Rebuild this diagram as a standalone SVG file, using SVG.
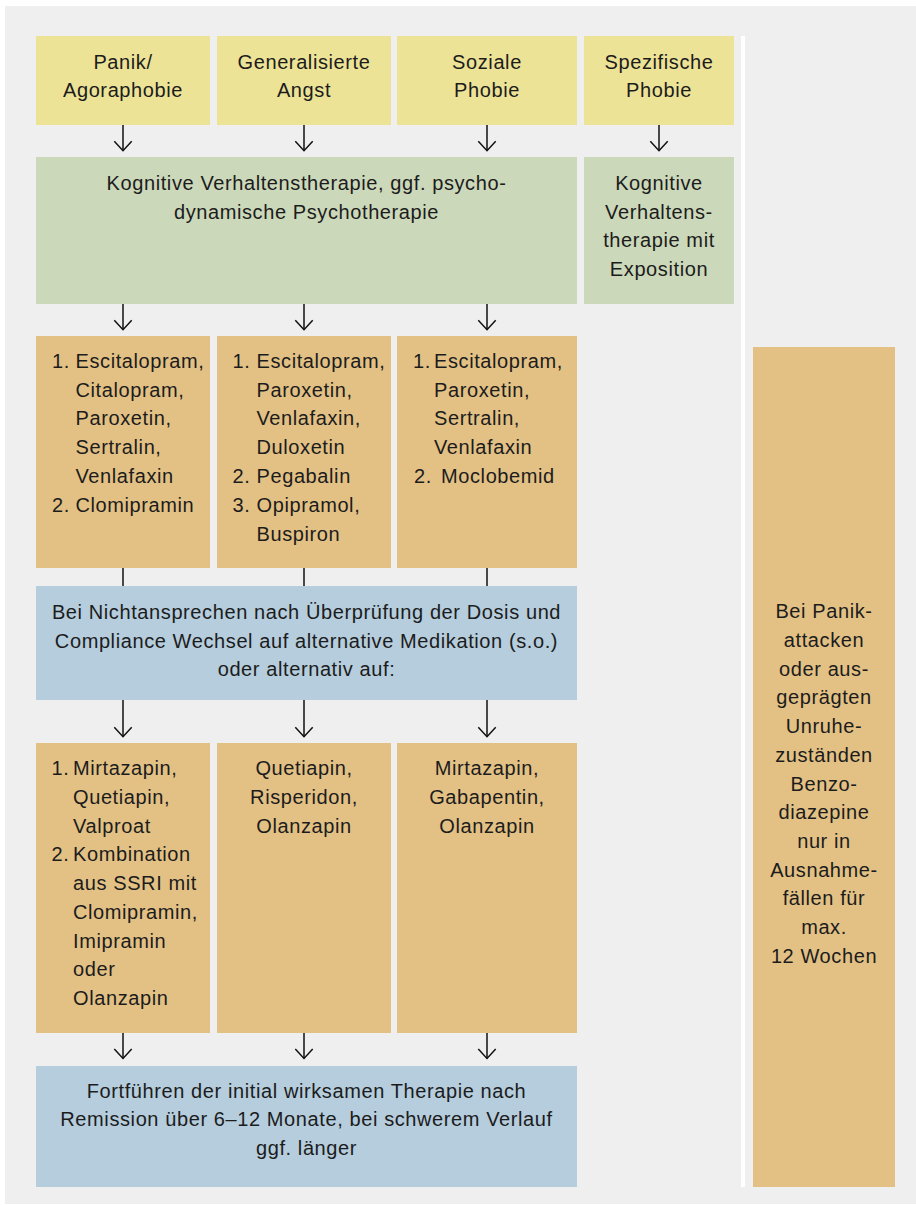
<svg xmlns="http://www.w3.org/2000/svg" width="916" height="1205" viewBox="0 0 916 1205">
<defs>
<style>
.t{font-family:"Liberation Sans",Arial,sans-serif;font-size:20px;letter-spacing:0.6px;fill:#1c1c1c}
.c{text-anchor:middle}
.yel{fill:#ede397}
.grn{fill:#ccd8ba}
.org{fill:#e3c185}
.blu{fill:#b5cddc}
.ln{stroke:#111;stroke-width:1.5;fill:none}
</style>
<marker id="ah" markerUnits="userSpaceOnUse" viewBox="-11 -10 12 20" refX="0" refY="0" markerWidth="12" markerHeight="20" orient="auto" overflow="visible">
<path d="M-9.5,-8.7 L0,0 L-9.5,8.7" fill="none" stroke="#111" stroke-width="1.5"/>
</marker>
</defs>
<rect x="0" y="0" width="916" height="1205" fill="#ffffff"/>
<rect x="5" y="6" width="911" height="1198" fill="#efefef"/>
<rect x="741" y="36" width="4" height="1151" fill="#ffffff"/>

<g id="h1"><rect class="yel" x="36" y="36" width="174" height="89"/>
<text class="t c" x="123" y="69">Panik/</text><text class="t c" x="123" y="97">Agoraphobie</text></g>
<g id="h2"><rect class="yel" x="217" y="36" width="174" height="89"/>
<text class="t c" x="304" y="69">Generalisierte</text><text class="t c" x="304" y="97">Angst</text></g>
<g id="h3"><rect class="yel" x="397" y="36" width="180" height="89"/>
<text class="t c" x="487" y="69">Soziale</text><text class="t c" x="487" y="97">Phobie</text></g>
<g id="h4"><rect class="yel" x="584" y="36" width="150" height="89"/>
<text class="t c" x="659" y="69">Spezifische</text><text class="t c" x="659" y="97">Phobie</text></g>

<g id="g1"><rect class="grn" x="36" y="157" width="541" height="147"/>
<text class="t c" x="306.5" y="190">Kognitive Verhaltenstherapie, ggf. psycho-</text>
<text class="t c" x="306.5" y="218.5">dynamische Psychotherapie</text></g>
<g id="g2"><rect class="grn" x="584" y="157" width="150" height="147"/>
<text class="t c" x="659" y="190">Kognitive</text>
<text class="t c" x="659" y="218.5">Verhaltens-</text>
<text class="t c" x="659" y="247">therapie mit</text>
<text class="t c" x="659" y="275.5">Exposition</text></g>

<g id="m1"><rect class="org" x="36" y="336" width="174" height="232"/>
<text class="t" x="52" y="367.7">1.</text><text class="t" x="75.5" y="367.7">Escitalopram,</text>
<text class="t" x="75.5" y="396.5">Citalopram,</text>
<text class="t" x="75.5" y="425.3">Paroxetin,</text>
<text class="t" x="75.5" y="454.1">Sertralin,</text>
<text class="t" x="75.5" y="482.9">Venlafaxin</text>
<text class="t" x="52" y="511.7">2.</text><text class="t" x="75.5" y="511.7">Clomipramin</text></g>
<g id="m2"><rect class="org" x="217" y="336" width="174" height="232"/>
<text class="t" x="232.5" y="367.7">1.</text><text class="t" x="256.5" y="367.7">Escitalopram,</text>
<text class="t" x="256.5" y="396.5">Paroxetin,</text>
<text class="t" x="256.5" y="425.3">Venlafaxin,</text>
<text class="t" x="256.5" y="454.1">Duloxetin</text>
<text class="t" x="232.5" y="482.9">2.</text><text class="t" x="256.5" y="482.9">Pegabalin</text>
<text class="t" x="232.5" y="511.7">3.</text><text class="t" x="256.5" y="511.7">Opipramol,</text>
<text class="t" x="256.5" y="540.5">Buspiron</text></g>
<g id="m3"><rect class="org" x="397" y="336" width="180" height="232"/>
<text class="t" x="413" y="367.7">1.</text><text class="t" x="434" y="367.7">Escitalopram,</text>
<text class="t" x="434" y="396.5">Paroxetin,</text>
<text class="t" x="434" y="425.3">Sertralin,</text>
<text class="t" x="434" y="454.1">Venlafaxin</text>
<text class="t" x="414" y="482.9">2.</text><text class="t" x="441" y="482.9">Moclobemid</text></g>

<g id="b1"><rect class="blu" x="36" y="586" width="541" height="114"/>
<text class="t c" x="306.5" y="619.3">Bei Nichtansprechen nach Überprüfung der Dosis und</text>
<text class="t c" x="306.5" y="647.7">Compliance Wechsel auf alternative Medikation (s.o.)</text>
<text class="t c" x="306.5" y="676">oder alternativ auf:</text></g>

<g id="a1"><rect class="org" x="36" y="743" width="174" height="290"/>
<text class="t" x="51.5" y="775">1.</text><text class="t" x="73" y="775">Mirtazapin,</text>
<text class="t" x="73" y="803.75">Quetiapin,</text>
<text class="t" x="73" y="832.5">Valproat</text>
<text class="t" x="51.5" y="861.25">2.</text><text class="t" x="73" y="861.25">Kombination</text>
<text class="t" x="73" y="890">aus SSRI mit</text>
<text class="t" x="73" y="918.75">Clomipramin,</text>
<text class="t" x="73" y="947.5">Imipramin</text>
<text class="t" x="73" y="976.25">oder</text>
<text class="t" x="73" y="1005">Olanzapin</text></g>
<g id="a2"><rect class="org" x="217" y="743" width="174" height="290"/>
<text class="t c" x="304" y="775">Quetiapin,</text>
<text class="t c" x="304" y="803.75">Risperidon,</text>
<text class="t c" x="304" y="832.5">Olanzapin</text></g>
<g id="a3"><rect class="org" x="397" y="743" width="180" height="290"/>
<text class="t c" x="487" y="775">Mirtazapin,</text>
<text class="t c" x="487" y="803.75">Gabapentin,</text>
<text class="t c" x="487" y="832.5">Olanzapin</text></g>

<g id="b2"><rect class="blu" x="36" y="1066" width="541" height="121"/>
<text class="t c" x="306.5" y="1097.7">Fortführen der initial wirksamen Therapie nach</text>
<text class="t c" x="306.5" y="1126.2">Remission über 6–12 Monate, bei schwerem Verlauf</text>
<text class="t c" x="306.5" y="1154.7">ggf. länger</text></g>

<g id="r1"><rect class="org" x="753" y="347" width="142" height="840"/>
<text class="t c" x="824" y="618.3">Bei Panik-</text>
<text class="t c" x="824" y="647">attacken</text>
<text class="t c" x="824" y="675.7">oder aus-</text>
<text class="t c" x="824" y="704.4">geprägten</text>
<text class="t c" x="824" y="733.1">Unruhe-</text>
<text class="t c" x="824" y="761.8">zuständen</text>
<text class="t c" x="824" y="790.5">Benzo-</text>
<text class="t c" x="824" y="819.2">diazepine</text>
<text class="t c" x="824" y="847.9">nur in</text>
<text class="t c" x="824" y="876.6">Ausnahme-</text>
<text class="t c" x="824" y="905.3">fällen für</text>
<text class="t c" x="824" y="934">max.</text>
<text class="t c" x="824" y="962.7">12 Wochen</text></g>

<g id="connectors">
<path class="ln" marker-end="url(#ah)" d="M123,125 V150.7"/>
<path class="ln" marker-end="url(#ah)" d="M304,125 V150.7"/>
<path class="ln" marker-end="url(#ah)" d="M487,125 V150.7"/>
<path class="ln" marker-end="url(#ah)" d="M659,125 V150.7"/>
<path class="ln" marker-end="url(#ah)" d="M123,304 V329.7"/>
<path class="ln" marker-end="url(#ah)" d="M304,304 V329.7"/>
<path class="ln" marker-end="url(#ah)" d="M487,304 V329.7"/>
<path class="ln" d="M123,568 V586"/>
<path class="ln" d="M304,568 V586"/>
<path class="ln" d="M487,568 V586"/>
<path class="ln" marker-end="url(#ah)" d="M123,700 V736.7"/>
<path class="ln" marker-end="url(#ah)" d="M304,700 V736.7"/>
<path class="ln" marker-end="url(#ah)" d="M487,700 V736.7"/>
<path class="ln" marker-end="url(#ah)" d="M123,1033 V1058.5"/>
<path class="ln" marker-end="url(#ah)" d="M304,1033 V1058.5"/>
<path class="ln" marker-end="url(#ah)" d="M487,1033 V1058.5"/>
</g>
</svg>
